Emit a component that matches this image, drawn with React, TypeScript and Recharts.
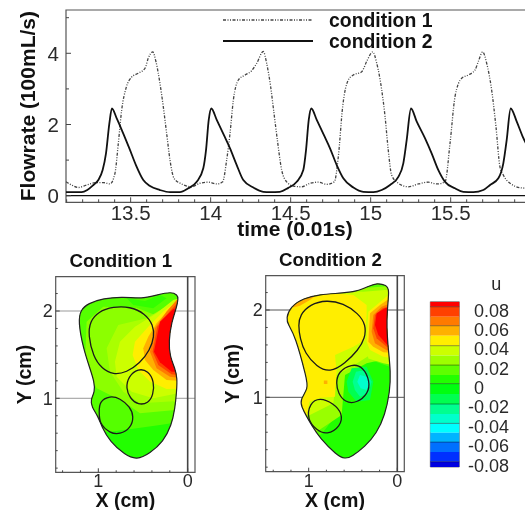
import {
  LineChart,
  Line,
  ScatterChart,
  Scatter,
  BarChart,
  Bar,
  XAxis,
  YAxis,
  CartesianGrid,
  ReferenceArea,
  ReferenceLine,
  Legend,
  Curve,
} from "recharts";

const FONT = '"Liberation Sans", Arial, sans-serif';
const INK = "#2a2a2a";

// ── Flowrate traces
const COND1_T = [13.096, 13.131, 13.173, 13.225, 13.288, 13.329, 13.371, 13.402, 13.423, 13.444, 13.471, 13.506, 13.548, 13.59, 13.61, 13.638, 13.658, 13.683, 13.704, 13.725, 13.746, 13.771, 13.819, 13.881, 13.933, 13.985, 14.038, 14.075, 14.1, 14.121, 14.142, 14.173, 14.215, 14.256, 14.288, 14.329, 14.35, 14.375, 14.396, 14.417, 14.444, 14.475, 14.517, 14.569, 14.621, 14.673, 14.725, 14.773, 14.798, 14.825, 14.86, 14.892, 14.944, 14.975, 15.013, 15.038, 15.069, 15.09, 15.11, 15.131, 15.173, 15.235, 15.298, 15.36, 15.413, 15.465, 15.496, 15.527, 15.569, 15.61, 15.652, 15.673, 15.7, 15.725, 15.756, 15.783, 15.808, 15.829, 15.871, 15.944, 15.996];
const COND1_V = [0.39, 0.3, 0.23, 0.3, 0.37, 0.37, 0.33, 0.63, 1.47, 2.41, 3.02, 3.33, 3.44, 3.58, 3.86, 4.04, 3.77, 3.16, 2.5, 1.75, 1.0, 0.49, 0.33, 0.25, 0.35, 0.38, 0.33, 0.39, 1.0, 1.75, 2.69, 3.25, 3.39, 3.51, 3.72, 4.05, 3.72, 3.06, 2.31, 1.56, 0.72, 0.39, 0.27, 0.25, 0.35, 0.38, 0.32, 0.39, 1.1, 2.5, 3.25, 3.39, 3.48, 3.77, 4.04, 3.72, 2.97, 2.22, 1.28, 0.58, 0.35, 0.25, 0.33, 0.38, 0.33, 0.39, 1.47, 2.78, 3.3, 3.39, 3.53, 3.77, 4.04, 3.72, 2.97, 1.94, 0.81, 0.58, 0.35, 0.22, 0.21];

const COND2_T = [13.096, 13.194, 13.229, 13.267, 13.298, 13.325, 13.346, 13.367, 13.383, 13.413, 13.458, 13.492, 13.533, 13.579, 13.621, 13.683, 13.746, 13.808, 13.86, 13.913, 13.954, 13.971, 13.988, 14.004, 14.038, 14.083, 14.121, 14.163, 14.204, 14.267, 14.329, 14.371, 14.433, 14.485, 14.538, 14.579, 14.596, 14.613, 14.629, 14.663, 14.708, 14.746, 14.788, 14.829, 14.892, 14.954, 15.017, 15.069, 15.121, 15.173, 15.204, 15.225, 15.252, 15.288, 15.34, 15.381, 15.423, 15.465, 15.527, 15.579, 15.642, 15.704, 15.746, 15.798, 15.829, 15.85, 15.875, 15.913, 15.95, 16.017];
const COND2_V = [0.1, 0.1, 0.16, 0.3, 0.44, 0.72, 1.19, 2.03, 2.45, 2.17, 1.7, 1.33, 0.86, 0.44, 0.27, 0.16, 0.1, 0.1, 0.21, 0.39, 0.77, 1.28, 2.13, 2.45, 2.13, 1.7, 1.33, 0.86, 0.44, 0.23, 0.11, 0.1, 0.11, 0.22, 0.39, 0.72, 1.28, 2.13, 2.45, 2.13, 1.7, 1.33, 0.86, 0.49, 0.23, 0.11, 0.1, 0.16, 0.3, 0.53, 0.91, 1.56, 2.45, 2.08, 1.61, 1.19, 0.72, 0.39, 0.21, 0.11, 0.1, 0.16, 0.3, 0.49, 0.91, 1.56, 2.45, 2.08, 1.66, 1.1];

const SERIES_NAMES = ["condition 1", "condition 2"];
const TIME_TICKS = [13.1, 13.2, 13.3, 13.4, 13.5, 13.6, 13.7, 13.8, 13.9, 14, 14.1, 14.2, 14.3, 14.4, 14.5, 14.6, 14.7, 14.8, 14.9, 15, 15.1, 15.2, 15.3, 15.4, 15.5, 15.6, 15.7, 15.8, 15.9, 16];
const TIME_LABELS = [13.5, 14, 14.5, 15, 15.5];
const FLOW_TICKS = [0, 1, 2, 3, 4, 5];
const FLOW_LABELS = [0, 2, 4];

// ── Map axes
const MAP_X_TICKS = [0, 0.2, 0.4, 0.6, 0.8, 1, 1.2, 1.4];
const MAP_Y_TICKS = [0.2, 0.4, 0.6, 0.8, 1, 1.2, 1.4, 1.6, 1.8, 2, 2.2];
const MAP_X_LABELS = [0, 1];
const MAP_Y_LABELS = [1, 2];

// ── Condition 1 contours (x cm, y cm)
const C1_OUTLINE = [[0.105, 2.145], [0.124, 2.038], [0.18, 1.878], [0.213, 1.649], [0.198, 1.477], [0.142, 1.343], [0.116, 1.229], [0.124, 1.076], [0.142, 0.885], [0.18, 0.694], [0.273, 0.503], [0.422, 0.37], [0.571, 0.293], [0.702, 0.351], [0.87, 0.503], [0.963, 0.675], [1.001, 0.79], [1.075, 0.904], [1.087, 0.981], [1.038, 1.076], [1.046, 1.191], [1.094, 1.343], [1.169, 1.573], [1.225, 1.878], [1.199, 2.012], [1.113, 2.088], [0.945, 2.145], [0.721, 2.164], [0.515, 2.138], [0.348, 2.183], [0.18, 2.222], [0.116, 2.183]];
const C1_BAND_A = [[1.281, 0.618], [0.87, 0.618], [0.571, 0.656], [0.31, 0.694], [-0.063, 0.752], [-0.063, 2.298], [1.281, 2.298]];
const C1_SPOT = [[0.683, 2.145], [0.478, 2.115], [0.31, 2.183], [0.236, 2.145], [0.385, 2.031], [0.609, 2.069]];
const C1_BAND_B = [[1.131, 1.878], [0.945, 2.05], [0.571, 2.038], [0.366, 1.954], [0.198, 2.069], [-0.063, 2.069], [-0.063, 0.885], [0.534, 0.828], [0.721, 0.962], [1.019, 1.114], [1.15, 1.382]];
const C1_BAND_C = [[0.907, 1.573], [0.777, 1.84], [0.46, 1.916], [0.273, 2.031], [-0.063, 2.107], [-0.063, 0.981], [0.534, 0.943], [0.721, 1.076], [0.87, 1.305]];
const C1_BAND_D = [[0.814, 1.42], [0.758, 1.649], [0.59, 1.821], [0.348, 1.973], [0.161, 2.126], [-0.063, 2.183], [-0.063, 1.095], [0.385, 1.0], [0.627, 1.076], [0.795, 1.248]];
const C1_BAND_E = [[0.616, 1.496], [0.59, 1.649], [0.441, 1.821], [0.273, 1.993], [0.086, 2.145], [-0.063, 2.183], [-0.063, 1.114], [0.236, 1.107], [0.422, 1.191], [0.553, 1.324]];
const C1_BAND_F = [[0.497, 1.573], [0.441, 1.706], [0.348, 1.859], [0.198, 2.031], [0.086, 2.145], [-0.063, 2.183], [-0.063, 1.191], [0.236, 1.21], [0.385, 1.324], [0.478, 1.439]];
const C1_BAND_G = [[0.422, 1.534], [0.366, 1.802], [0.236, 1.993], [0.124, 2.126], [-0.063, 2.145], [-0.063, 1.21], [0.198, 1.248], [0.348, 1.343]];
const C1_BAND_H = [[0.392, 1.534], [0.34, 1.821], [0.198, 2.0], [0.116, 2.088], [-0.063, 2.107], [-0.063, 1.248], [0.18, 1.275], [0.329, 1.382]];
const C1_BAND_I = [[0.377, 1.534], [0.31, 1.878], [0.161, 2.023], [-0.063, 2.069], [-0.063, 1.298], [0.18, 1.305], [0.31, 1.412]];
const C1_OVAL_TOP = [[1.113, 1.725], [1.094, 1.878], [1.001, 1.993], [0.833, 2.05], [0.646, 2.05], [0.478, 1.973], [0.385, 1.84], [0.374, 1.706], [0.422, 1.553], [0.534, 1.401], [0.683, 1.298], [0.833, 1.267], [0.963, 1.343], [1.057, 1.477]];
const C1_OVAL_RIGHT = [[0.691, 1.114], [0.665, 1.248], [0.553, 1.343], [0.441, 1.313], [0.374, 1.191], [0.385, 1.038], [0.441, 0.943], [0.553, 0.923], [0.646, 1.0]];
const C1_OVAL_LOW = [[0.99, 0.962], [0.87, 1.03], [0.758, 1.0], [0.646, 0.904], [0.601, 0.79], [0.639, 0.656], [0.758, 0.587], [0.87, 0.599], [0.99, 0.713], [0.99, 0.847]];

// ── Condition 2 contours
const C2_OUTLINE = [[0.233, 2.309], [0.12, 2.286], [0.09, 2.229], [0.113, 2.019], [0.12, 1.79], [0.101, 1.542], [0.075, 1.294], [0.083, 1.065], [0.139, 0.797], [0.233, 0.587], [0.365, 0.435], [0.515, 0.32], [0.59, 0.293], [0.685, 0.339], [0.873, 0.53], [0.967, 0.683], [1.023, 0.778], [1.08, 0.893], [1.098, 0.969], [1.004, 1.103], [1.023, 1.217], [1.155, 1.714], [1.23, 1.828], [1.256, 1.905], [1.204, 2.038], [1.061, 2.134], [0.873, 2.18], [0.647, 2.191], [0.459, 2.21], [0.308, 2.279]];
const C2_BAND_A = [[1.023, 0.415], [0.835, 0.606], [0.628, 0.874], [0.685, 1.37], [0.346, 1.446], [-0.068, 1.294], [-0.068, 2.382], [1.324, 2.382], [1.324, 0.415]];
const C2_BAND_B = [[1.324, 0.645], [0.91, 0.606], [0.628, 0.797], [0.59, 1.256], [0.346, 1.389], [-0.068, 1.485], [-0.068, 2.286], [0.421, 2.248], [1.324, 2.286]];
const C2_BAND_C = [[1.324, 0.797], [0.986, 0.797], [0.722, 0.931], [0.685, 1.256], [0.515, 1.351], [0.308, 1.485], [-0.068, 1.637], [-0.068, 2.248], [0.384, 2.21], [1.324, 2.248]];
const C2_YELLOW = [[1.324, 0.721], [1.031, 0.74], [0.993, 0.95], [0.873, 0.996], [0.703, 1.007], [0.685, 1.294], [0.703, 1.485], [0.496, 1.58], [0.365, 1.656], [0.346, 1.905], [0.346, 2.057], [0.496, 2.172], [1.324, 2.248]];
const C2_ORANGE_EDGE = [[1.174, 2.03], [1.098, 2.05], [0.986, 2.115], [0.91, 2.172], [0.986, 2.26], [1.211, 2.15]];
const C2_ORANGE_DOT = [[0.829, 1.192], [0.789, 1.192], [0.789, 1.152], [0.829, 1.152]];
const C2_HOT_A = [[0.365, 1.676], [0.346, 1.924], [0.308, 2.057], [0.195, 2.134], [-0.068, 2.248], [-0.068, 1.351], [0.158, 1.389], [0.327, 1.446]];
const C2_HOT_B = [[0.346, 1.637], [0.327, 1.981], [0.214, 2.076], [0.101, 2.172], [-0.068, 2.21], [-0.068, 1.427], [0.158, 1.466], [0.308, 1.542]];
const C2_HOT_C = [[0.327, 1.637], [0.308, 1.962], [0.195, 2.057], [0.083, 2.134], [-0.068, 2.172], [-0.068, 1.504], [0.158, 1.515], [0.271, 1.58]];
const C2_HOT_D = [[0.29, 1.752], [0.271, 1.943], [0.177, 2.038], [-0.068, 2.134], [-0.068, 1.53], [0.12, 1.538], [0.252, 1.618]];
const C2_HOT_E = [[0.271, 1.79], [0.252, 1.943], [0.165, 2.019], [-0.068, 2.096], [-0.068, 1.553], [0.12, 1.58], [0.233, 1.676]];
const C2_HOT_F = [[0.252, 1.828], [0.233, 1.962], [0.139, 2.019], [-0.068, 2.076], [-0.068, 1.58], [0.113, 1.599], [0.214, 1.714]];
const C2_COLD_A = [[0.572, 1.179], [0.515, 1.332], [0.346, 1.351], [0.271, 1.179], [0.308, 0.969], [0.459, 0.95], [0.553, 1.065]];
const C2_COLD_B = [[0.504, 1.179], [0.466, 1.294], [0.365, 1.313], [0.29, 1.179], [0.327, 1.046], [0.421, 1.007], [0.478, 1.084]];
const C2_COLD_C = [[0.451, 1.179], [0.421, 1.256], [0.346, 1.236], [0.308, 1.179], [0.346, 1.084], [0.414, 1.103]];
const C2_OVAL_TOP = [[1.117, 1.828], [1.098, 1.943], [0.986, 2.065], [0.797, 2.115], [0.609, 2.076], [0.44, 1.962], [0.353, 1.828], [0.365, 1.676], [0.44, 1.542], [0.59, 1.389], [0.76, 1.282], [0.91, 1.351], [1.042, 1.504], [1.098, 1.676]];
const C2_OVAL_RIGHT = [[0.692, 1.16], [0.666, 1.294], [0.515, 1.385], [0.384, 1.351], [0.308, 1.179], [0.327, 1.046], [0.459, 0.931], [0.59, 0.942], [0.666, 1.046]];
const C2_OVAL_LOW = [[0.993, 0.931], [0.873, 1.0], [0.722, 0.931], [0.617, 0.816], [0.639, 0.664], [0.797, 0.568], [0.91, 0.625], [1.016, 0.74]];

// ── Colour bar
const U_EDGES = [0.0886, 0.0834, 0.0731, 0.0638, 0.0535, 0.0432, 0.0332, 0.0232, 0.0129, 0.004, -0.0067, -0.017, -0.0274, -0.037, -0.0466, -0.0563, -0.0666, -0.0766, -0.082];
const U_COLORS = ["#ff0000", "#ff4000", "#ff7a00", "#ffb000", "#ffee00", "#ccff00", "#9dff00", "#5eff00", "#22ff00", "#00ff10", "#00ff50", "#00ff90", "#00ffcc", "#00ffff", "#00b4ff", "#0070ff", "#0030ff", "#0000e0"];
const U_DARK_EDGES = [0.0834, 0.0638, 0.0432, 0.0232, 0.004, -0.017, -0.037, -0.0563, -0.0766];
const U_TICKS = [0.08, 0.06, 0.04, 0.02, 0, -0.02, -0.04, -0.06, -0.08];

const C1_LAYERS = [
  [C1_BAND_A, "#55ff00"],
  [C1_SPOT, "#33ff00"],
  [C1_BAND_B, "#8cff00"],
  [C1_BAND_C, "#aaff00"],
  [C1_BAND_D, "#ccff00"],
  [C1_BAND_E, "#ffee00"],
  [C1_BAND_F, "#ffb000"],
  [C1_BAND_G, "#ff7a00"],
  [C1_BAND_H, "#ff4000"],
  [C1_BAND_I, "#ff0000"],
];
const C2_LAYERS = [
  [C2_BAND_A, "#55ff00"],
  [C2_BAND_B, "#99ff00"],
  [C2_BAND_C, "#ccff00"],
  [C2_YELLOW, "#ffee00"],
  [C2_ORANGE_EDGE, "#ffb000"],
  [C2_ORANGE_DOT, "#ffb000"],
  [C2_HOT_A, "#ccff00"],
  [C2_HOT_B, "#ffee00"],
  [C2_HOT_C, "#ffb000"],
  [C2_HOT_D, "#ff7a00"],
  [C2_HOT_E, "#ff4000"],
  [C2_HOT_F, "#ff0000"],
  [C2_COLD_A, "#00ff50"],
  [C2_COLD_B, "#00ff90"],
  [C2_COLD_C, "#00ffcc"],
];

const zip = (xs: number[], ys: number[]) => xs.map((t, i) => ({ t, v: ys[i] }));
const toPoints = (pts: number[][]) => pts.map(([x, y]) => ({ x, y }));

// draws a tick line pointing into the plot, and the number if there is one
function makeTick(side: "left" | "bottom", labels: number[], fontSize: number, gap: number, long: number, short: number) {
  return ({ x, y, payload }: any) => {
    const isMajor = labels.includes(payload.value);
    const len = isMajor ? long : short;
    if (side === "left") {
      return (
        <g>
          <line x1={x} y1={y} x2={x + len} y2={y} stroke="#444" />
          {isMajor && (
            <text x={x - gap} y={y} dy="0.36em" textAnchor="end" fontSize={fontSize} fill={INK}>
              {payload.value}
            </text>
          )}
        </g>
      );
    }
    return (
      <g>
        <line x1={x} y1={y} x2={x} y2={y - len} stroke="#444" />
        {isMajor && (
          <text x={x} y={y + gap} textAnchor="middle" fontSize={fontSize} fill={INK}>
            {payload.value}
          </text>
        )}
      </g>
    );
  };
}

const boldLabel = { fontWeight: 700, fill: "#111", textAnchor: "middle" as const };

function FlowLegend() {
  return (
    <div style={{ fontSize: 19.4, fontWeight: 700, color: "#111", lineHeight: "20.7px" }}>
      {SERIES_NAMES.map((name, i) => (
        <div key={name} style={{ display: "flex", alignItems: "center", height: 20.7 }}>
          <svg width={106} height={8}>
            <line
              x1={0}
              x2={90}
              y1={4}
              y2={4}
              stroke={i === 0 ? "#444" : "#111"}
              strokeWidth={i === 0 ? 1.3 : 2}
              strokeDasharray={i === 0 ? "3 1.5 1 1.5 1 1.5" : undefined}
            />
          </svg>
          <span>{name}</span>
        </div>
      ))}
    </div>
  );
}

function FlowChart() {
  const xMin = 13.096;
  const xMax = 16.027;
  const yMin = -0.185;
  const yMax = 5.216;
  return (
    <div style={{ position: "absolute", left: 0, top: 0 }}>
      <LineChart width={540} height={240} margin={{ top: 10, right: 5, bottom: 0, left: 0 }}>
        <ReferenceArea x1={xMin} x2={xMax} y1={yMin} y2={yMax} fill="none" stroke="#555" strokeWidth={1.2} ifOverflow="extendDomain" />
        <ReferenceLine y={0} stroke="#111" strokeWidth={1.2} />
        <XAxis
          type="number"
          dataKey="t"
          domain={[xMin, xMax]}
          allowDataOverflow
          ticks={TIME_TICKS}
          interval={0}
          height={37.7}
          axisLine={false}
          tickLine={false}
          tickSize={0}
          tickMargin={0}
          tick={makeTick("bottom", TIME_LABELS, 20.5, 18, 5, 3)}
          label={{ value: "time (0.01s)", position: "insideBottom", offset: 4, dx: -5.5, fontSize: 21, style: boldLabel }}
        />
        <YAxis
          type="number"
          domain={[yMin, yMax]}
          allowDataOverflow
          ticks={FLOW_TICKS}
          interval={0}
          width={66}
          axisLine={false}
          tickLine={false}
          tickSize={0}
          tickMargin={0}
          tick={makeTick("left", FLOW_LABELS, 20.5, 7, 5, 3)}
          label={{ value: "Flowrate (100mL/s)", angle: -90, position: "insideLeft", offset: 28, fontSize: 21, style: boldLabel }}
        />
        <Legend
          layout="vertical"
          align="center"
          verticalAlign="middle"
          content={<FlowLegend />}
          wrapperStyle={{ left: 223, top: 10, width: 230, height: 42 }}
        />
        <Line
          name={SERIES_NAMES[0]}
          data={zip(COND1_T, COND1_V)}
          dataKey="v"
          type="monotone"
          stroke="#444"
          strokeWidth={1.3}
          strokeDasharray="3 1.5 1 1.5 1 1.5"
          dot={false}
          isAnimationActive={false}
        />
        <Line
          name={SERIES_NAMES[1]}
          data={zip(COND2_T, COND2_V)}
          dataKey="v"
          type="monotone"
          stroke="#111"
          strokeWidth={1.8}
          dot={false}
          isAnimationActive={false}
        />
      </LineChart>
    </div>
  );
}

function MapChart({ id, title, left, width, plot, xDomain, yDomain, outline, layers, ovals, baseFill, yLabelX, gridColor }: any) {
  const closed = "basisClosed";
  const region = (pts: number[][], key: string, render: (p: any) => any) => (
    <Scatter
      key={key}
      data={toPoints(pts)}
      line={(p: any) => render(p)}
      lineType="joint"
      shape={() => <g />}
      isAnimationActive={false}
    />
  );
  return (
    <div style={{ position: "absolute", left, top: 245 }}>
      <ScatterChart width={width} height={265} margin={{ top: plot.top, right: plot.right, bottom: 0, left: 0 }}>
        <CartesianGrid horizontal vertical={false} horizontalValues={MAP_Y_LABELS} stroke={gridColor} />
        <XAxis
          type="number"
          dataKey="x"
          reversed
          domain={xDomain}
          allowDataOverflow
          ticks={MAP_X_TICKS}
          interval={0}
          height={plot.bottom}
          axisLine={false}
          tickLine={false}
          tickSize={0}
          tickMargin={0}
          tick={makeTick("bottom", MAP_X_LABELS, 18, 15, 4, 2)}
          label={{ value: "X (cm)", position: "insideBottom", offset: 3, fontSize: 19.6, style: boldLabel }}
        />
        <YAxis
          type="number"
          dataKey="y"
          domain={yDomain}
          allowDataOverflow
          ticks={MAP_Y_TICKS}
          interval={0}
          width={plot.left}
          axisLine={false}
          tickLine={false}
          tickSize={0}
          tickMargin={0}
          tick={makeTick("left", MAP_Y_LABELS, 18, 3, 4, 2)}
          label={{ value: "Y (cm)", angle: -90, position: "insideLeft", offset: yLabelX, fontSize: 19.6, style: boldLabel }}
        />
        <ReferenceLine x={0} stroke="#444" strokeWidth={1.6} />
        <ReferenceArea
          x1={xDomain[0]}
          x2={xDomain[1]}
          y1={yDomain[0]}
          y2={yDomain[1]}
          fill="none"
          stroke="#555"
          strokeWidth={1.2}
          label={{ value: title, position: "top", offset: 10, dx: -4.5, fontSize: 18.7, fontWeight: 700, fill: "#111" }}
        />
        {region(outline, "base", (p) => (
          <>
            <defs>
              <clipPath id={id}>
                <Curve points={p.points} type={closed} />
              </clipPath>
            </defs>
            <Curve points={p.points} type={closed} fill={baseFill} stroke="none" />
          </>
        ))}
        {layers.map(([pts, color]: any, i: number) =>
          region(pts, "layer" + i, (p) => (
            <g clipPath={`url(#${id})`}>
              <Curve points={p.points} type="linearClosed" fill={color} stroke="none" />
            </g>
          ))
        )}
        {region(outline, "edge", (p) => (
          <Curve points={p.points} type={closed} fill="none" stroke="#222" strokeWidth={1.2} />
        ))}
        {ovals.map((pts: number[][], i: number) =>
          region(pts, "oval" + i, (p) => (
            <Curve points={p.points} type={closed} fill="none" stroke="#1a1a1a" strokeWidth={1.3} />
          ))
        )}
      </ScatterChart>
    </div>
  );
}

function ColorBarTick({ x, y, payload }: any) {
  const v = payload.value;
  return (
    <text x={x + 14.7 - (v < 0 ? 6 : 0)} y={y} dy="0.36em" textAnchor="start" fontSize={18} fill={INK}>
      {v}
    </text>
  );
}

function ColorBar() {
  const row = [{ name: "u" }];
  return (
    <div style={{ position: "absolute", left: 420, top: 265 }}>
      <BarChart
        width={105}
        height={245}
        data={row}
        margin={{ top: 36.7, right: 0, bottom: 43, left: 10.3 }}
        barCategoryGap={0}
        barGap="-100%"
      >
        <XAxis dataKey="name" hide />
        <YAxis
          orientation="right"
          type="number"
          domain={[U_EDGES[U_EDGES.length - 1], U_EDGES[0]]}
          allowDataOverflow
          ticks={U_TICKS}
          interval={0}
          width={65.7}
          axisLine={false}
          tickLine={false}
          tickSize={0}
          tickMargin={0}
          tick={<ColorBarTick />}
          label={{ value: "u", position: "top", offset: 12, dx: 4, fontSize: 18, fill: INK }}
        />
        {U_COLORS.map((color, i) => (
          <Bar key={color} dataKey={() => [U_EDGES[i + 1], U_EDGES[i]]} fill={color} isAnimationActive={false} />
        ))}
        {U_DARK_EDGES.map((v) => (
          <ReferenceLine key={v} y={v} stroke="rgba(0,0,0,0.4)" strokeWidth={1} />
        ))}
        <ReferenceArea y1={U_EDGES[U_EDGES.length - 1]} y2={U_EDGES[0]} fill="none" stroke="#888" strokeWidth={1} />
      </BarChart>
    </div>
  );
}

export default function App() {
  return (
    <div
      style={{
        position: "absolute",
        left: 0,
        top: 0,
        width: 525,
        height: 510,
        overflow: "hidden",
        background: "#fff",
        fontFamily: FONT,
        filter: "blur(0.45px)",
      }}
    >
      <FlowChart />
      <MapChart
        id="clip-c1"
        title="Condition 1"
        left={0}
        width={215}
        plot={{ top: 31.7, right: 20, bottom: 37.7, left: 55.7 }}
        xDomain={[-0.082, 1.477]}
        yDomain={[0.152, 2.393]}
        outline={C1_OUTLINE}
        layers={C1_LAYERS}
        ovals={[C1_OVAL_TOP, C1_OVAL_RIGHT, C1_OVAL_LOW]}
        baseFill="#22ff00"
        yLabelX={24}
        gridColor="#999"
      />
      <MapChart
        id="clip-c2"
        title="Condition 2"
        left={215}
        width={210}
        plot={{ top: 30.7, right: 20.7, bottom: 38.3, left: 50.7 }}
        xDomain={[-0.079, 1.485]}
        yDomain={[0.148, 2.393]}
        outline={C2_OUTLINE}
        layers={C2_LAYERS}
        ovals={[C2_OVAL_TOP, C2_OVAL_RIGHT, C2_OVAL_LOW]}
        baseFill="#22ff00"
        yLabelX={16.7}
        gridColor="#555"
      />
      <ColorBar />
    </div>
  );
}
